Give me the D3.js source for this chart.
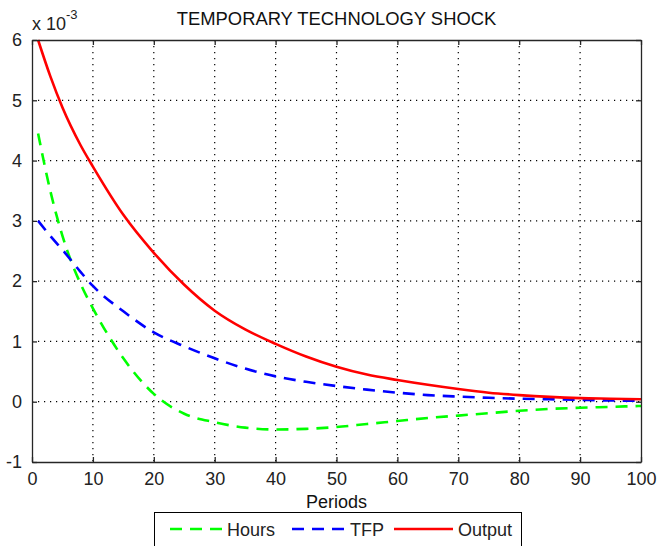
<!DOCTYPE html>
<html>
<head>
<meta charset="utf-8">
<title>Temporary technology shock</title>
<style>
    body { margin: 0; padding: 0; background: #fff; }
    svg { display: block; font-family: "Liberation Sans", Arial, sans-serif; }
</style>
</head>
<body>
<svg width="657" height="546"></svg>
<script src="https://d3js.org/d3.v7.min.js"></script>
<script>
// impulse responses (units of 1e-3)
var periods = [1, 3, 5, 8, 10, 15, 20, 25, 30, 35, 40, 45, 50, 55, 60, 65, 70, 75, 80, 85, 90, 95, 100];
var hours   = [4.45, 3.5, 2.75, 1.95, 1.55, 0.72, 0.13, -0.2, -0.34, -0.43, -0.46, -0.45, -0.42, -0.37, -0.32, -0.27, -0.23, -0.19, -0.15, -0.12, -0.1, -0.085, -0.07];
var tfp     = [3.0, 2.75, 2.52, 2.15, 1.92, 1.5, 1.15, 0.92, 0.72, 0.55, 0.42, 0.33, 0.26, 0.2, 0.15, 0.11, 0.085, 0.065, 0.05, 0.04, 0.03, 0.02, 0.015];
var output  = [6.0, 5.4, 4.88, 4.25, 3.9, 3.1, 2.47, 1.94, 1.51, 1.2, 0.96, 0.75, 0.58, 0.45, 0.36, 0.28, 0.21, 0.15, 0.11, 0.08, 0.06, 0.05, 0.04];
var xTicks = [0, 10, 20, 30, 40, 50, 60, 70, 80, 90, 100];
var yTicks = [-1, 0, 1, 2, 3, 4, 5, 6];

var series = [
    {name: "Hours", values: hours, color: "#00ff00", dash: "12,8"},
    {name: "TFP", values: tfp, color: "#0000ff", dash: "12,8"},
    {name: "Output", values: output, color: "#ff0000", dash: null}
];

var svg = d3.select("svg"),
    plotLeft = 32, plotRight = 641, plotTop = 40, plotBottom = 462;

var x = d3.scaleLinear().domain([0, 100]).range([plotLeft, plotRight]);
var y = d3.scaleLinear().domain([-1, 6]).range([plotBottom, plotTop]);

var axisColor = "#262626";

// grid
var grid = svg.append("g")
    .attr("stroke", "#000")
    .attr("stroke-width", 1.2)
    .attr("stroke-dasharray", "1.2,4.8");
grid.selectAll("line.vx")
    .data(xTicks.slice(1, -1))
    .enter().append("line")
    .attr("x1", function (d) { return x(d); })
    .attr("x2", function (d) { return x(d); })
    .attr("y1", plotTop).attr("y2", plotBottom);
grid.selectAll("line.hy")
    .data(yTicks.slice(1, -1))
    .enter().append("line")
    .attr("y1", function (d) { return y(d); })
    .attr("y2", function (d) { return y(d); })
    .attr("x1", plotLeft).attr("x2", plotRight);

// lines
var line = d3.line()
    .x(function (d) { return x(d[0]); })
    .y(function (d) { return y(d[1]); })
    .curve(d3.curveMonotoneX);

svg.append("g").selectAll("path")
    .data(series)
    .enter().append("path")
    .attr("fill", "none")
    .attr("stroke", function (d) { return d.color; })
    .attr("stroke-width", 2.6)
    .attr("stroke-dasharray", function (d) { return d.dash; })
    .attr("d", function (d) {
        return line(periods.map(function (p, i) { return [p, d.values[i]]; }));
    });

// axes: ticks inside, on all four sides
var tickLen = 5, fmt = function (d) { return String(d); };
var xAxisB = d3.axisBottom(x).tickValues(xTicks).tickFormat(fmt).tickSizeInner(-tickLen).tickSizeOuter(0).tickPadding(10);
var xAxisT = d3.axisTop(x).tickValues(xTicks).tickSizeInner(-tickLen).tickSizeOuter(0).tickFormat("");
var yAxisL = d3.axisLeft(y).tickValues(yTicks).tickFormat(fmt).tickSizeInner(-tickLen).tickSizeOuter(0).tickPadding(10);
var yAxisR = d3.axisRight(y).tickValues(yTicks).tickSizeInner(-tickLen).tickSizeOuter(0).tickFormat("");

function style(g) {
    g.select(".domain").attr("stroke", axisColor).attr("stroke-width", 1.3);
    g.selectAll(".tick line").attr("stroke", axisColor).attr("stroke-width", 1.3);
    g.selectAll(".tick text").attr("fill", "#222").style("font-size", "18px")
        .style("font-family", "'Liberation Sans', Arial, sans-serif");
}
svg.append("g").attr("transform", "translate(0," + plotBottom + ")").call(xAxisB).call(style);
svg.append("g").attr("transform", "translate(0," + plotTop + ")").call(xAxisT).call(style);
svg.append("g").attr("transform", "translate(" + plotLeft + ",0)").call(yAxisL).call(style);
svg.append("g").attr("transform", "translate(" + plotRight + ",0)").call(yAxisR).call(style);

// titles
svg.append("text")
    .attr("x", (plotLeft + plotRight) / 2).attr("y", 25)
    .attr("text-anchor", "middle")
    .style("font-size", "18.4px").attr("fill", "#111")
    .text("TEMPORARY TECHNOLOGY SHOCK");

svg.append("text")
    .attr("x", (plotLeft + plotRight) / 2).attr("y", 508)
    .attr("text-anchor", "middle")
    .style("font-size", "18px").attr("fill", "#111")
    .text("Periods");

var mult = svg.append("text")
    .attr("x", 32).attr("y", 30)
    .style("font-size", "18px").attr("fill", "#222");
mult.append("tspan").text("x 10");
mult.append("tspan").attr("dy", -11).style("font-size", "13px").text("-3");

// legend
var legend = svg.append("g");
legend.append("rect")
    .attr("x", 154.5).attr("y", 512.5)
    .attr("width", 367).attr("height", 40)
    .attr("fill", "#fff").attr("stroke", "#000").attr("stroke-width", 1);

var legLineX = [170, 292, 394], legTextX = [227, 350, 458];
var item = legend.selectAll("g.item")
    .data(series)
    .enter().append("g");
item.append("line")
    .attr("x1", function (d, i) { return legLineX[i]; })
    .attr("x2", function (d, i) { return legTextX[i] - 5; })
    .attr("y1", 529).attr("y2", 529)
    .attr("stroke", function (d) { return d.color; })
    .attr("stroke-width", 2.6)
    .attr("stroke-dasharray", function (d) { return d.dash; });
item.append("text")
    .attr("x", function (d, i) { return legTextX[i]; }).attr("y", 536)
    .style("font-size", "18px").attr("fill", "#222")
    .text(function (d) { return d.name; });
</script>
</body>
</html>
